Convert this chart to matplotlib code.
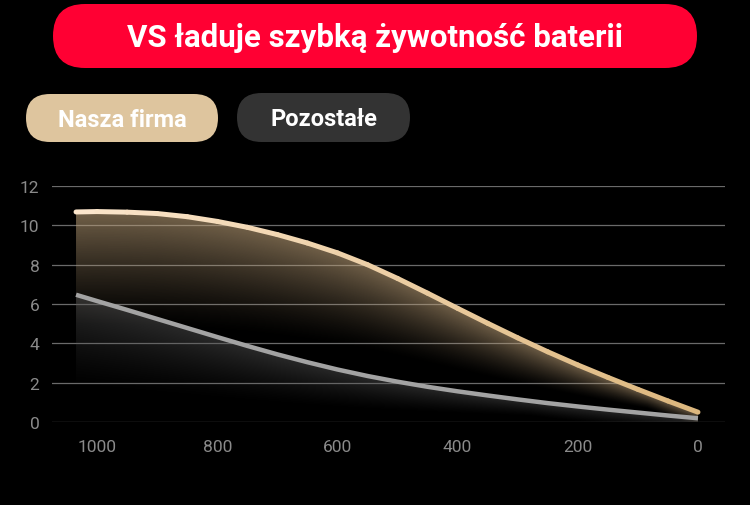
import matplotlib.pyplot as plt
import numpy as np
from matplotlib.collections import LineCollection
from matplotlib.colors import to_rgb
from matplotlib.patches import FancyBboxPatch, Polygon

title = "VS ładuje szybką żywotność baterii"
legend_labels = ["Nasza firma", "Pozostałe"]

x_values = [1035, 1000, 950, 900, 850, 800, 750, 700, 650, 600, 550,
            500, 450, 400, 350, 300, 250, 200, 150, 100, 50, 0]
ours = [10.68, 10.7, 10.67, 10.6, 10.44, 10.2, 9.9, 9.53, 9.1, 8.6, 8.0,
        7.3, 6.55, 5.78, 5.02, 4.28, 3.57, 2.9, 2.27, 1.66, 1.07, 0.5]
others = [6.47, 6.15, 5.7, 5.24, 4.78, 4.32, 3.87, 3.44, 3.04, 2.67, 2.34,
          2.05, 1.79, 1.56, 1.35, 1.15, 0.96, 0.79, 0.63, 0.48, 0.33, 0.19]

x_ticks = [1000, 800, 600, 400, 200, 0]
y_ticks = [0, 2, 4, 6, 8, 10, 12]

W, H = 750, 506
fig = plt.figure(figsize=(W / 100, H / 100), dpi=100, facecolor="black")
plt.rcParams["font.family"] = ["Roboto", "DejaVu Sans"]

# overlay in pixel coordinates for header and legend pills
overlay = fig.add_axes([0, 0, 1, 1])
overlay.set_xlim(0, W)
overlay.set_ylim(H, 0)
overlay.axis("off")


def pill(x0, y0, x1, y1, color, text, size):
    r = (y1 - y0) / 2
    overlay.add_patch(
        FancyBboxPatch(
            (x0, y0), x1 - x0, y1 - y0,
            boxstyle=f"round,pad=0,rounding_size={r}",
            facecolor=color, edgecolor="none",
        )
    )
    overlay.text(
        (x0 + x1) / 2, (y0 + y1) / 2 + 1, text,
        color="white", fontsize=size, fontweight="bold",
        ha="center", va="center",
    )


pill(53, 5, 697, 69, "#FF0033", title, 22.5)
pill(26, 95, 218, 143, "#DEC59E", legend_labels[0], 17)
pill(237, 94, 410, 143, "#333333", legend_labels[1], 17)

# chart axes
ax = fig.add_axes([52 / W, (H - 423) / H, 673 / W, 236 / H])
ax.set_facecolor("black")
ax.tick_params(colors="#8a8a8a", labelsize=12.5, length=0)
ax.tick_params(axis="y", pad=9)
ax.tick_params(axis="x", pad=12)
for spine in ax.spines.values():
    spine.set_visible(False)
ax.grid(axis="y", color="#6a6a6a", linewidth=0.9)
ax.set_axisbelow(True)


def gradient_fill(xs, ys, rgb, top_alpha, depth_frac):
    xs = np.asarray(xs, float)
    ys = np.asarray(ys, float)
    gx = np.linspace(xs.min(), xs.max(), 400)
    gy = np.linspace(0, 12, 300)
    line = np.interp(gx, xs[::-1], ys[::-1])
    below = line[None, :] - gy[:, None]
    depth = np.maximum(line * depth_frac, 0.8)[None, :]
    alpha = np.clip(1 - below / depth, 0, 1) ** 1.3 * top_alpha
    img = np.zeros((len(gy), len(gx), 4))
    img[..., :3] = rgb
    img[..., 3] = alpha
    im = ax.imshow(
        img, origin="lower", aspect="auto",
        extent=(xs.min(), xs.max(), 0, 12), zorder=2,
        interpolation="bilinear",
    )
    poly = Polygon(
        list(zip(xs, ys)) + [(xs[-1], 0), (xs[0], 0)],
        closed=True, facecolor="none", edgecolor="none",
        transform=ax.transData,
    )
    ax.add_patch(poly)
    im.set_clip_path(poly)


gradient_fill(x_values, ours, to_rgb("#BFA27A"), 0.6, 0.55)
gradient_fill(x_values, others, to_rgb("#555555"), 0.5, 0.75)

# gold line with colour shift from cream to tan
pts = np.column_stack([x_values, ours])
segs = np.stack([pts[:-1], pts[1:]], axis=1)
c0 = np.array(to_rgb("#FCE6CC"))
c1 = np.array(to_rgb("#DDB87F"))
t = np.linspace(0, 1, len(segs))
colors = [c0 * (1 - v) + c1 * v for v in t]
ax.add_collection(
    LineCollection(segs, colors=colors, linewidths=3.6, zorder=4,
                   capstyle="round", joinstyle="round")
)

ax.plot(x_values, others, color="#A3A3A3", linewidth=3.2, zorder=4,
        solid_capstyle="butt", solid_joinstyle="round")

ax.set_xlim(1075, -45)
ax.set_ylim(0, 12)
ax.set_yticks(y_ticks)
ax.set_xticks(x_ticks)

fig.savefig("out.png", dpi=100, facecolor="black")
